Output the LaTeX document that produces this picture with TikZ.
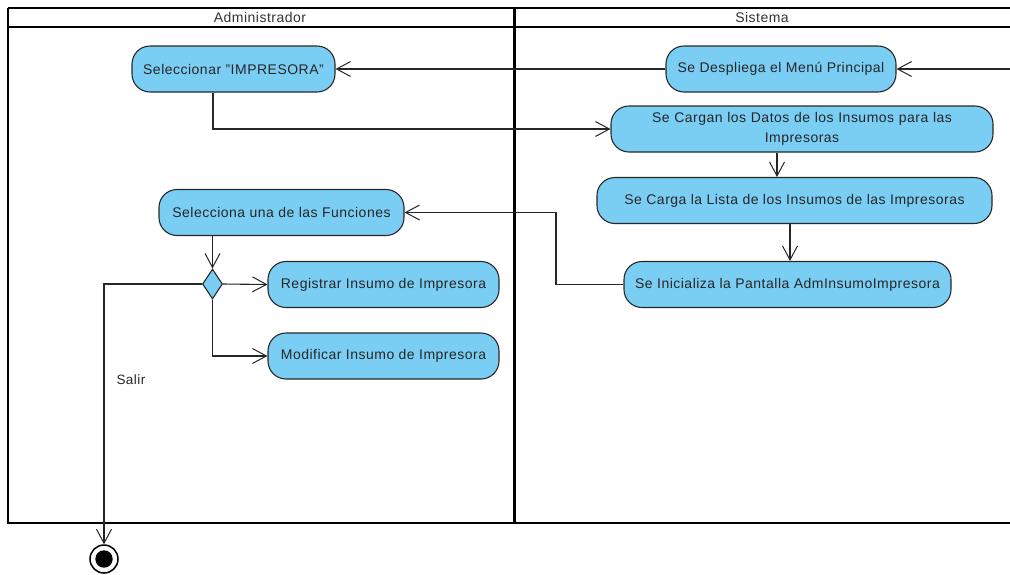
\documentclass[tikz,border=0pt]{standalone}
\usepackage{fontspec}
\setmainfont{Liberation Sans}[LetterSpace=3.5]
\usetikzlibrary{arrows.meta,shapes.geometric}
\definecolor{actfill}{RGB}{122,206,244}
\definecolor{actline}{RGB}{40,40,40}
\begin{document}
\begin{tikzpicture}[x=1pt,y=-1pt,
  act/.style={draw=actline,fill=actfill,line width=1.1pt,rounded corners=18pt,
    minimum height=46pt,inner sep=2pt,font=\fontsize{14}{19.5}\selectfont,text=black!85,align=center},
  flow/.style={draw=black!85,line width=1.1pt,-{Straight Barb[length=14pt,width=15pt,line width=1pt]}},
  lane/.style={draw=black,line width=2.4pt},
  hdr/.style={font=\fontsize{14}{16}\selectfont,text=black!80}]
\useasboundingbox (0,0) rectangle (1010,574);
\clip (0,0) rectangle (1010,574);
% swimlanes
\draw[line width=1.6pt] (8,8) -- (1015,8);
\draw[line width=2pt] (8,27) -- (1015,27);
\draw[lane] (8,8) -- (8,523) -- (1015,523);
\draw[line width=3pt] (514,8) -- (514,523);
\node[hdr] (hA) at (260,17.5) {Administrador};
\node[hdr] (hS) at (762,17.5) {Sistema};
% activities
\node[act,minimum width=203pt] (sel) at (233.5,69) {Seleccionar \symbol{34}IMPRESORA\symbol{34}};
\node[act,minimum width=230pt] (menu) at (781,69) {Se Despliega el Menú Principal};
\node[act,minimum width=382pt,text width=360pt] (cargan) at (802,129) {Se Cargan los Datos de los Insumos para las\\Impresoras};
\node[act,minimum width=395pt] (lista) at (794.5,200.5) {Se Carga la Lista de los Insumos de las Impresoras};
\node[act,minimum width=327pt] (ini) at (787.5,284.5) {Se Inicializa la Pantalla AdmInsumoImpresora};
\node[act,minimum width=245pt] (func) at (281.5,212.5) {Selecciona una de las Funciones};
\node[act,minimum width=231pt] (reg) at (383.5,284.5) {Registrar Insumo de Impresora};
\node[act,minimum width=231pt] (mod) at (383.5,356) {Modificar Insumo de Impresora};
\node[diamond,draw=actline,fill=actfill,line width=1.1pt,minimum width=20pt,minimum height=30pt,inner sep=0pt] (dec) at (212.5,284) {};
% final node
\node[circle,draw=black,line width=1.5pt,fill=white,minimum size=28pt,inner sep=0pt] (fin) at (104,559) {};
\fill[black] (fin.center) circle (8.7pt);
\node[font=\fontsize{13.5}{15}\selectfont,text=black!85,anchor=west] (salir) at (113,380) {Salir};
% connectors
\coordinate (inR) at (1012,69);
\draw[flow] (inR) -- (menu.east);
\draw[flow] (menu.west) -- (sel.east);
\draw[flow] (sel.south -| 213,0) |- (cargan.west);
\draw[flow] (cargan.south -| 777,0) -- (lista.north -| 777,0);
\draw[flow] (lista.south -| 790,0) -- (ini.north -| 790,0);
\draw[flow] (ini.west) -| (556,212.5) -- (func.east);
\draw[flow] (func.south -| 212.5,0) -- (dec.north);
\draw[flow] (dec.east) -- (reg.west);
\draw[flow] (dec.south) |- (mod.west);
\draw[flow] (dec.west) -| (fin.north);
\end{tikzpicture}
\end{document}
